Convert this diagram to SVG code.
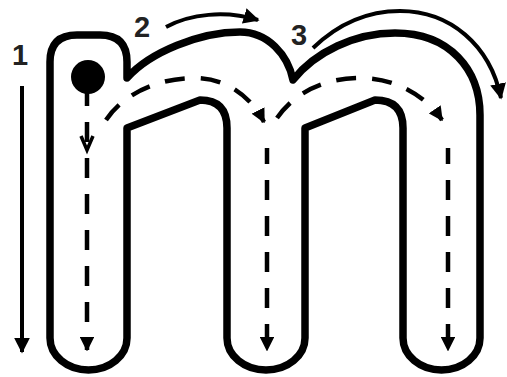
<svg xmlns="http://www.w3.org/2000/svg" width="507" height="377" viewBox="0 0 507 377">
<style>
.outline{fill:none;stroke:#000;stroke-width:7.5;stroke-linejoin:round}
.dash{fill:none;stroke:#000;stroke-width:4.5;stroke-dasharray:20 16}
.guide{fill:none;stroke:#000;stroke-width:4}
.num{font-family:"Liberation Sans",Arial,sans-serif;font-size:29px;font-weight:bold;fill:#222}
</style>
<defs>
<marker id="ah" viewBox="0 0 10 10" refX="9" refY="5" markerWidth="4" markerHeight="4" orient="auto" markerUnits="strokeWidth">
<path d="M0,0 L10,5 L0,10 Z" fill="#000"/>
</marker>
<marker id="ah2" viewBox="0 0 10 10" refX="9" refY="5" markerWidth="3.2" markerHeight="3.2" orient="auto" markerUnits="strokeWidth">
<path d="M0,0 L10,5 L0,10 Z" fill="#000"/>
</marker>
</defs>
<rect width="507" height="377" fill="#fff"/>
<g id="letter">
<path class="outline" d="M50,338 L50,62 Q50,35 77,35 L100,35 Q127,35 127,62 L127,78 C150,52 200,32 240,32 C268,32 288,55 293,80 C315,52 355,33 395,33 C450,33 480,70 480,115 L480,338 A38.5,32 0 0 1 403,338 L403,128 Q403,100 375,100 L305,128 L305,338 A39,32 0 0 1 227,338 L227,128 Q227,100 200,100 L127,128 L127,338 A38.5,32 0 0 1 50,338 Z"/>
</g>
<g id="start-dot"><circle cx="88" cy="77" r="17" fill="#000"/></g>
<g id="connectors">
<path class="dash" d="M87,92 L87,350" stroke-dashoffset="6" marker-end="url(#ah2)"/>
<path d="M81,136 L87,150 L93,136" fill="none" stroke="#000" stroke-width="3.5"/>
<path class="dash" d="M106,120 C125,92 160,78 195,78 C225,78 250,95 264,122" marker-end="url(#ah2)"/>
<path class="dash" d="M267,148 L267,350" stroke-dashoffset="4" marker-end="url(#ah2)"/>
<path class="dash" d="M277,118 C295,92 325,78 360,78 C395,78 425,95 442,120" marker-end="url(#ah2)"/>
<path class="dash" d="M448,148 L448,350" stroke-dashoffset="4" marker-end="url(#ah2)"/>
<path class="guide" d="M22,86 L22,352" marker-end="url(#ah)"/>
<path class="guide" d="M166,27 C190,14 225,10 258,20" marker-end="url(#ah)"/>
<path class="guide" d="M313,48 C340,22 370,11 400,11 C450,11 490,45 501,98" marker-end="url(#ah)"/>
</g>
<g id="labels">
<text class="num" x="20" y="65" text-anchor="middle">1</text>
<text class="num" x="142" y="37" text-anchor="middle">2</text>
<text class="num" x="299" y="45" text-anchor="middle">3</text>
</g>
</svg>
